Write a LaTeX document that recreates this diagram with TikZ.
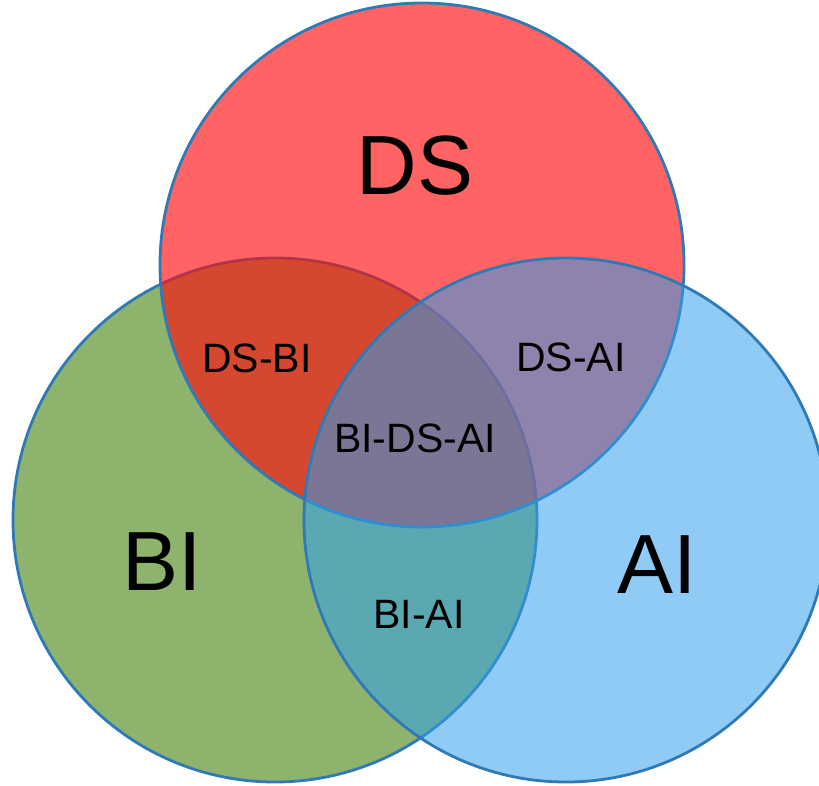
\documentclass[tikz,border=0pt]{standalone}
\usepackage{fontspec}
\setmainfont{Liberation Sans}
\definecolor{bigreen}{RGB}{141,179,109}
\definecolor{dsred}{RGB}{255,11,11}
\definecolor{aiblue}{RGB}{48,159,237}
\definecolor{rimblue}{RGB}{47,122,182}
\begin{document}
\begin{tikzpicture}[x=1pt,y=-1pt,
  setdisc/.style={circle, minimum size=524pt, inner sep=0pt},
  setrim/.style={circle, draw=rimblue, line width=2.8pt, minimum size=524pt, inner sep=0pt},
  biglabel/.style={font=\fontsize{84}{84}\selectfont, inner sep=0pt, text=black},
  smalllabel/.style={font=\fontsize{41}{41}\selectfont, inner sep=0pt, text=black}]
\useasboundingbox (0,0) rectangle (819,785);
\clip (0,0) rectangle (819,785);

% the three sets: green at the bottom, translucent red and blue above it
\node[setdisc, fill=bigreen] (bi) at (275,520) {};
\node[setrim] (birim) at (275,520) {};
\node[setdisc, fill=dsred, fill opacity=0.64] (ds) at (422,265) {};
\node[setrim] (dsrim) at (422,265) {};
\node[setdisc, fill=aiblue, fill opacity=0.54] (ai) at (566,520) {};
\node[setrim] (airim) at (566,520) {};

% set names
\node[biglabel] (dslabel) at (415,166) {DS};
\node[biglabel] (bilabel) at (162,562) {BI};
\node[biglabel] (ailabel) at (657,565) {AI};

% overlap regions
\node[smalllabel] (dsbi) at (257,358) {DS-BI};
\node[smalllabel] (dsai) at (571,357) {DS-AI};
\node[smalllabel] (bidsai) at (415,438) {BI-DS-AI};
\node[smalllabel] (biai) at (419,614) {BI-AI};
\end{tikzpicture}
\end{document}
